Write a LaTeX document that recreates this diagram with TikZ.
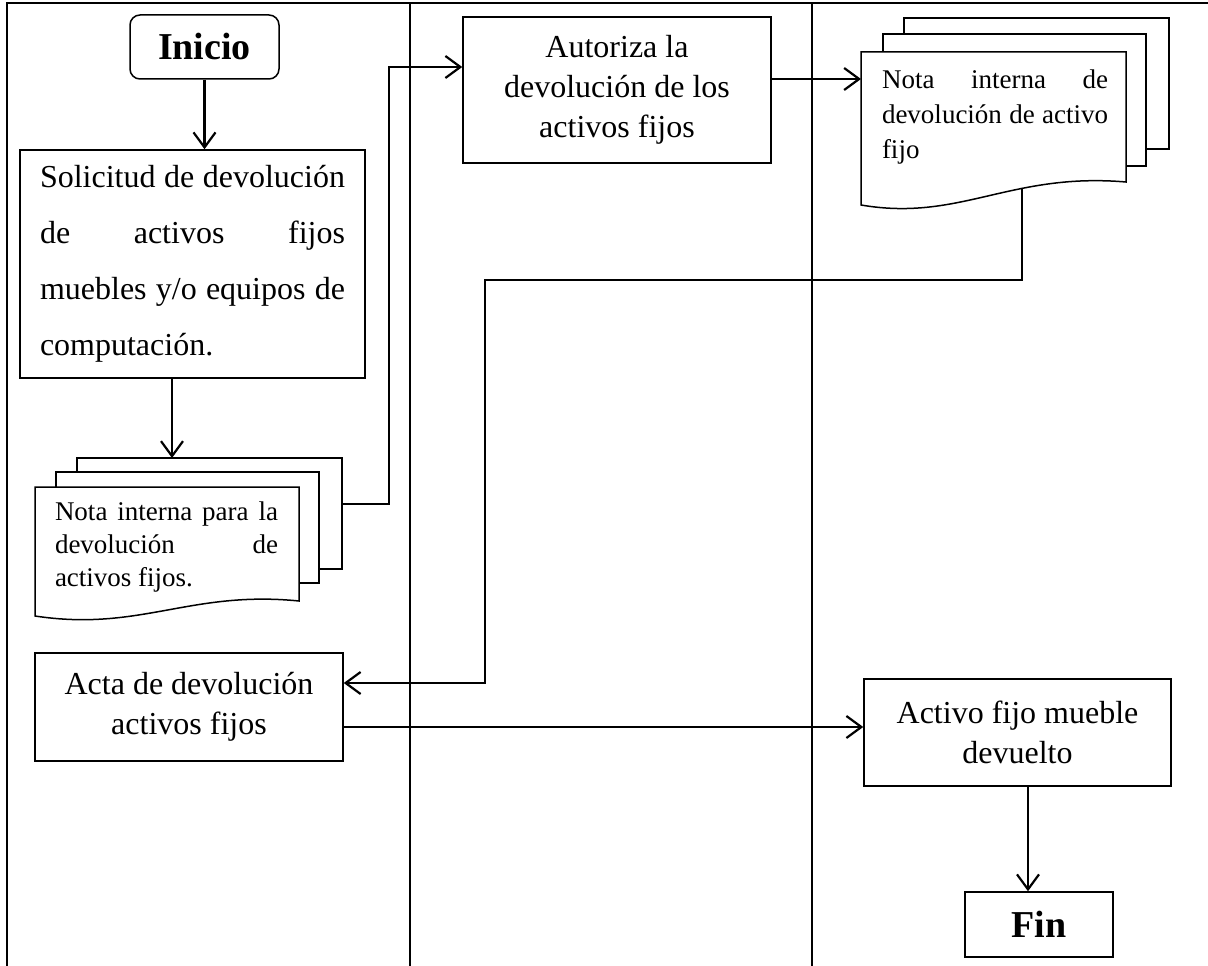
\documentclass[tikz,border=0pt]{standalone}
\usepackage{fontspec}
\setmainfont{Liberation Serif}
\usetikzlibrary{arrows.meta,intersections,calc}
\begin{document}
\begin{tikzpicture}[x=1pt,y=-1pt,
  frame/.style={line width=2.8pt},
  box/.style={draw, line width=1.5pt, rectangle, inner sep=0pt, align=center,
    font=\fontsize{32}{40}\selectfont},
  term/.style={draw, line width=1.5pt, inner sep=0pt,
    font=\fontsize{38}{44}\selectfont\bfseries},
  sheet/.style={draw, fill=white, line width=1.5pt},
  doctext/.style={inner sep=0pt, align=center},
  flow/.style={line width=2.2pt, -{Straight Barb[length=15pt,width=22pt]}}
]
\useasboundingbox (0,0) rectangle (1208,966);

% swimlane frame
\draw[frame] (7,966) -- (7,3) -- (1208,3);
\draw[frame] (410,3) -- (410,966);
\draw[frame] (812,3) -- (812,966);

% first lane
\node[term, rounded corners=10pt, minimum width=149pt, minimum height=64pt] (ini) at (204.5,47) {Inicio};
\node[box, minimum width=345pt, minimum height=228pt, font=\fontsize{32}{56}\selectfont] (sol) at (192.5,264)
  {\hbox to 305pt{Solicitud\hfill de\hfill devolución}\\
   \hbox to 305pt{de\hfill activos\hfill fijos}\\
   \hbox to 305pt{muebles\hfill y/o\hfill equipos\hfill de}\\
   \hbox to 305pt{computación.\hfill}};

% stacked documents: internal note
\draw[sheet] (77,458) rectangle (342,569);
\draw[sheet] (56,472) rectangle (319,583);
\draw[sheet] (35,616) -- (35,487) -- (299,487) -- (299,601)
  .. controls (190,590) and (140,632) .. cycle;
\node[doctext, font=\fontsize{27}{33}\selectfont] (nota1) at (166.5,547)
  {\hbox to 223pt{Nota\hfill interna\hfill para\hfill la}\\
   \hbox to 223pt{devolución\hfill de}\\
   \hbox to 223pt{activos fijos.\hfill}};
\coordinate (d1top) at (172,458);
\coordinate (d1out) at (342,504);

\node[box, minimum width=308pt, minimum height=108pt] (acta) at (189,707)
  {Acta de devolución\\activos fijos};

% second lane
\node[box, minimum width=308pt, minimum height=146pt] (aut) at (617,90)
  {Autoriza la\\devolución de los\\activos fijos};

% third lane: stacked documents
\draw[sheet] (904,18) rectangle (1169,149);
\draw[sheet] (883,34) rectangle (1146,166);
\draw[sheet, name path=wave2] (861,205) -- (861,52) -- (1126,52) -- (1126,182)
  .. controls (1010,172) and (960,222) .. cycle;
\node[doctext, font=\fontsize{27}{35}\selectfont] (nota2) at (995,117)
  {\hbox to 226pt{Nota\hfill interna\hfill de}\\
   \hbox to 226pt{devolución\hfill de\hfill activo}\\
   \hbox to 226pt{fijo\hfill}};
\coordinate (d2in) at (861,79);

\node[box, minimum width=307pt, minimum height=107pt] (act) at (1017.5,732.5)
  {Activo fijo mueble\\devuelto};
\node[term, minimum width=148pt, minimum height=65pt] (fin) at (1039,924.5) {Fin};

% connectors
\coordinate (j1) at (389,67);
\coordinate (j2) at (485,280);
\coordinate (j3) at (485,683);
\coordinate (j4) at (343,727);
\coordinate (j5) at (1028,800);
\path[name path=drop] (1022,150) -- (1022,300);
\path[name intersections={of=wave2 and drop, by=d2out}];

\draw[flow] (ini.south) -- (sol.north -| ini.south);
\draw[flow] (sol.south -| d1top) -- (d1top);
\draw[flow] (d1out) -| (j1) -- (j1 -| aut.west);
\draw[flow] (aut.east |- d2in) -- (d2in);
\draw[flow] (d2out) |- (j2) -- (j3) -- (j3 -| acta.east);
\draw[flow] (acta.east |- j4) -- (act.west |- j4);
\draw[flow] (act.south -| j5) -- (fin.north -| j5);
\end{tikzpicture}
\end{document}
